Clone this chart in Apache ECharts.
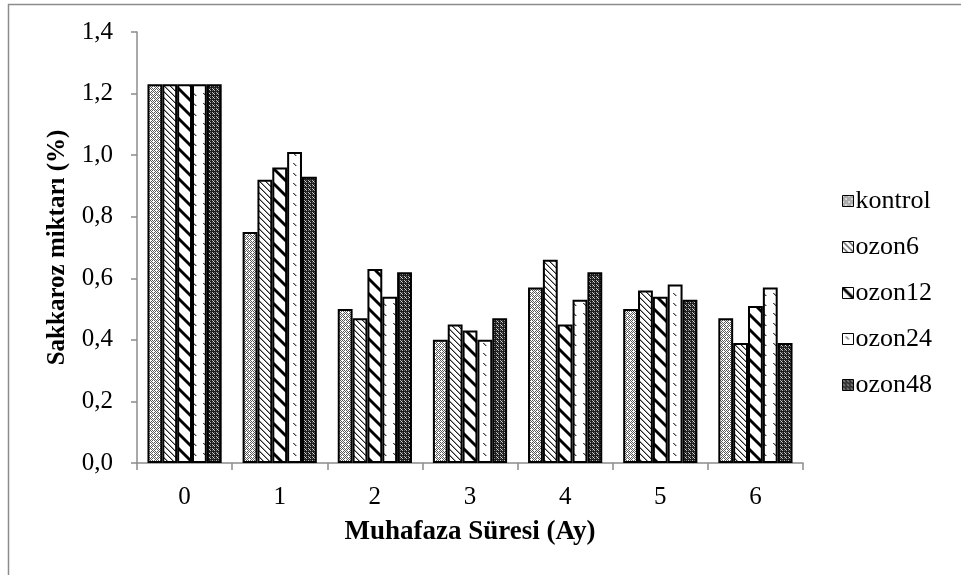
<!DOCTYPE html>
<html>
<head>
<meta charset="utf-8">
<script src="https://cdn.jsdelivr.net/npm/echarts@6/dist/echarts.min.js"></script>
<style>html,body{margin:0;padding:0;background:#fff}#c{width:961px;height:575px}</style>
</head>
<body>
<div id="c"></div>
<script>
const categories = ['0','1','2','3','4','5','6'];
const kontrol = [1.23, 0.75, 0.50, 0.40, 0.57, 0.50, 0.47];
const ozon6   = [1.23, 0.92, 0.47, 0.45, 0.66, 0.56, 0.39];
const ozon12  = [1.23, 0.96, 0.63, 0.43, 0.45, 0.54, 0.51];
const ozon24  = [1.23, 1.01, 0.54, 0.40, 0.53, 0.58, 0.57];
const ozon48  = [1.23, 0.93, 0.62, 0.47, 0.62, 0.53, 0.39];
const seriesNames = ['kontrol','ozon6','ozon12','ozon24','ozon48'];
const yTicks = [0,0.2,0.4,0.6,0.8,1.0,1.2,1.4];

function tile(w, h, draw) {
  const c = document.createElement('canvas');
  c.width = w; c.height = h;
  const g = c.getContext('2d');
  g.fillStyle = '#fff'; g.fillRect(0,0,w,h);
  draw(g, w, h);
  return {image: c, repeat: 'repeat'};
}
function px(g, x, y, col) { g.fillStyle = col; g.fillRect(x, y, 1, 1); }

const patKontrol = tile(6, 6, (g) => {
  for (let y = 0; y < 6; y++) for (let x = 0; x < 6; x++) {
    if ((x + y) % 2 === 0) px(g, x, y, '#5a5a5a');
  }
  px(g, 0, 0, '#fff'); px(g, 3, 3, '#fff');
  px(g, 1, 0, '#fff'); px(g, 0, 1, '#fff');
  px(g, 4, 3, '#fff'); px(g, 3, 4, '#fff');
});
const patOzon6 = tile(6, 6, (g) => {
  for (let i = 0; i < 6; i++) {
    px(g, i, i, '#222');
    px(g, (i + 1) % 6, i, '#999');
  }
});
const patOzon12 = tile(15, 15, (g) => {
  for (let i = 0; i < 15; i++) {
    for (let k = -2; k <= 2; k++) {
      const x = ((i + k) % 15 + 15) % 15;
      px(g, x, i, Math.abs(k) === 2 ? '#777' : '#000');
    }
  }
});
const patOzon24 = tile(10, 10, (g) => {
  for (let i = 0; i < 3; i++) {
    px(g, 3 + i, 3 + i, '#444');
    px(g, 4 + i, 3 + i, '#aaa');
  }
});
const patOzon48 = tile(4, 4, (g) => {
  g.fillStyle = '#1e1e1e'; g.fillRect(0, 0, 4, 4);
  px(g, 0, 0, '#bbb'); px(g, 2, 2, '#bbb'); px(g, 2, 0, '#666'); px(g, 0, 2, '#666');
  px(g, 1, 1, '#ddd');
});

const pats = [patKontrol, patOzon6, patOzon12, patOzon24, patOzon48];
const datas = [kontrol, ozon6, ozon12, ozon24, ozon48];
const FONT = '"Liberation Serif", "Times New Roman", serif';

const chart = echarts.init(document.getElementById('c'), null, {renderer: 'canvas'});
chart.setOption({
  animation: false,
  backgroundColor: '#fff',
  textStyle: {fontFamily: FONT, color: '#000'},
  graphic: [
    {type: 'line', shape: {x1: 8.5, y1: 4, x2: 8.5, y2: 575}, style: {stroke: '#8c8c8c', lineWidth: 1.5}, silent: true},
    {type: 'line', shape: {x1: 8, y1: 4.5, x2: 961, y2: 4.5}, style: {stroke: '#8c8c8c', lineWidth: 1.5}, silent: true}
  ],
  grid: {left: 137, right: 158, top: 32, bottom: 112, containLabel: false},
  legend: {
    orient: 'vertical',
    left: 837, top: 183,
    itemWidth: 11, itemHeight: 11, itemGap: 20,
    icon: 'rect',
    itemStyle: {borderColor: '#000', borderWidth: 1},
    textStyle: {fontFamily: FONT, fontSize: 26, color: '#000', padding: [0,0,0,-3], lineHeight: 26},
    data: seriesNames
  },
  xAxis: {
    type: 'category',
    data: categories,
    name: 'Muhafaza Süresi (Ay)',
    nameLocation: 'middle',
    nameGap: 56,
    nameTextStyle: {fontFamily: FONT, fontSize: 27, fontWeight: 'bold', color: '#000'},
    axisLine: {lineStyle: {color: '#8c8c8c', width: 1.5}},
    axisTick: {show: true, alignWithLabel: false, length: 7, lineStyle: {color: '#8c8c8c', width: 1.5}},
    axisLabel: {fontFamily: FONT, fontSize: 25, color: '#000', margin: 22}
  },
  yAxis: {
    type: 'value',
    min: 0, max: 1.4, interval: 0.2,
    name: 'Sakkaroz miktarı (%)',
    nameLocation: 'middle',
    nameGap: 67,
    nameTextStyle: {fontFamily: FONT, fontSize: 25, fontWeight: 'bold', color: '#000'},
    axisLine: {show: true, lineStyle: {color: '#8c8c8c', width: 1.5}},
    axisTick: {show: true, length: 6, lineStyle: {color: '#8c8c8c', width: 1.5}},
    splitLine: {show: false},
    axisLabel: {
      fontFamily: FONT, fontSize: 25, color: '#000', margin: 24,
      formatter: (v) => {
        const t = yTicks.find(t => Math.abs(t - v) < 1e-6);
        return (t !== undefined ? t : v).toFixed(1).replace('.', ',');
      }
    }
  },
  series: seriesNames.map((n, i) => ({
    name: n,
    type: 'bar',
    data: datas[i],
    barGap: '0%',
    barCategoryGap: '22%',
    itemStyle: {color: pats[i], borderColor: '#000', borderWidth: 2}
  }))
});
</script>
</body>
</html>
